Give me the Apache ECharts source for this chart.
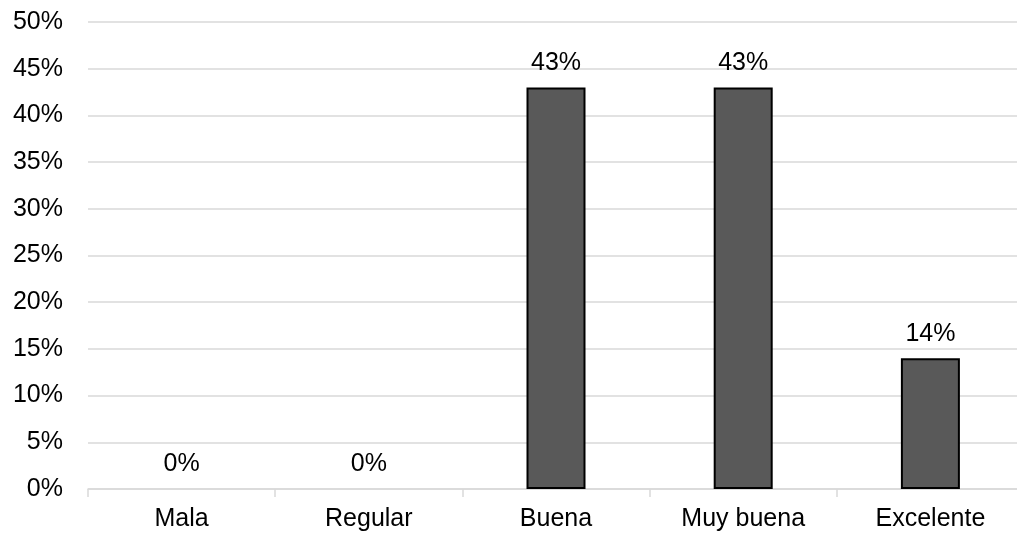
<!DOCTYPE html>
<html><head><meta charset="utf-8">
<script src="https://cdn.jsdelivr.net/npm/echarts@6/dist/echarts.min.js"></script>
<style>html,body{margin:0;padding:0;background:#fff;overflow:hidden}#c{width:1024px;height:533px}</style>
</head><body><div id="c"></div>
<script>
const categories = ["Mala", "Regular", "Buena", "Muy buena", "Excelente"];
const values = [0, 0, 43, 43, 14];
const yTicks = [0, 5, 10, 15, 20, 25, 30, 35, 40, 45, 50];

const barData = values.map(v => v === 0 ? {value: v, itemStyle: {borderWidth: 0}} : {value: v});

const chart = echarts.init(document.getElementById('c'), null, {renderer: 'canvas'});
chart.setOption({
  animation: false,
  backgroundColor: '#ffffff',
  grid: {left: 88, right: 0, top: 22, bottom: 44, containLabel: false},
  xAxis: {
    type: 'category',
    data: categories,
    axisLine: {show: true, lineStyle: {color: '#d9d9d9', width: 1.5}},
    axisTick: {show: true, length: 8, lineStyle: {color: '#d9d9d9', width: 1.5}},
    axisLabel: {color: '#000', fontSize: 25, fontFamily: 'Liberation Sans, Arial', margin: 18}
  },
  yAxis: {
    type: 'value',
    min: yTicks[0], max: yTicks[yTicks.length - 1], interval: 5,
    axisLine: {show: false},
    axisTick: {show: false},
    splitLine: {lineStyle: {color: '#d9d9d9', width: 1.5}},
    axisLabel: {color: '#000', fontSize: 25, fontFamily: 'Liberation Sans, Arial', margin: 25,
      formatter: v => v + '%'}
  },
  series: [{
    type: 'bar',
    data: barData,
    barWidth: 59,
    itemStyle: {color: '#595959', borderColor: '#000', borderWidth: 2},
    label: {show: true, position: 'top', distance: 12, color: '#000', fontSize: 25,
      fontFamily: 'Liberation Sans, Arial', formatter: p => p.value + '%'}
  }]
});
</script></body></html>
